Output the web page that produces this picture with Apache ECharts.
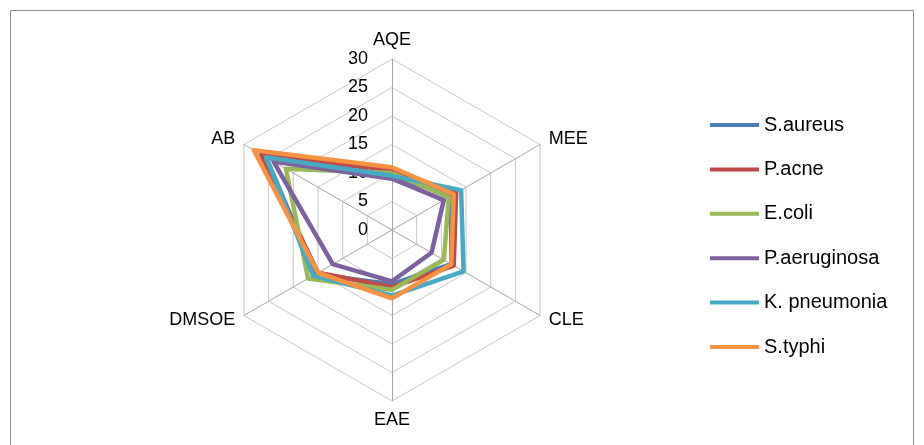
<!DOCTYPE html>
<html>
<head>
<meta charset="utf-8">
<script src="https://cdn.jsdelivr.net/npm/echarts@6/dist/echarts.min.js"></script>
<style>
  html, body { margin: 0; padding: 0; background: #ffffff; }
  #chart { width: 924px; height: 445px; }
</style>
</head>
<body>
<div id="chart"></div>
<script>
// Solvent extracts, listed in drawing order around the web
const extracts = ['AQE', 'AB', 'DMSOE', 'EAE', 'CLE', 'MEE'];
const scaleTicks = ['0', '5', '10', '15', '20', '25', '30'];

// Zone of inhibition per organism, same order as `extracts`
const organisms = ['S.aureus', 'P.acne', 'E.coli', 'P.aeruginosa', 'K. pneumonia', 'S.typhi'];
const sAureus     = [9.5, 25.5, 15.5, 9.5, 12,   12];
const pAcne       = [10.5, 26.5, 15,  10,  12.5, 13];
const eColi       = [10,  21.5, 17,  10.5, 10.5, 11.5];
const pAeruginosa = [9,   24,   12,  9,    8,    10.5];
const kPneumonia  = [9.5, 25.5, 16,  11.5, 14.5, 14];
const sTyphi      = [11,  28,   15,  12,   12,   12.5];

const colors = ['#4A7EBB', '#BE4B48', '#98B954', '#7D60A0', '#46AAC5', '#F69240'];
const values = [sAureus, pAcne, eColi, pAeruginosa, kPneumonia, sTyphi];

const FONT = 'Liberation Sans, Arial, sans-serif';
const CX = 392, CY = 230, R = 171;

const chart = echarts.init(document.getElementById('chart'), null, { renderer: 'canvas' });

chart.setOption({
  animation: false,
  backgroundColor: '#ffffff',
  color: colors,
  graphic: [{
    type: 'rect',
    shape: { x: 10.5, y: 10.5, width: 903, height: 460 },
    style: { fill: 'none', stroke: '#8c8c8c', lineWidth: 1 },
    silent: true
  }],
  legend: {
    orient: 'vertical',
    left: 710,
    top: 113,
    padding: 0,
    itemWidth: 49,
    itemHeight: 4,
    itemGap: 20.4,
    icon: 'rect',
    textStyle: { fontFamily: FONT, fontSize: 20, color: '#000', lineHeight: 24 },
    data: organisms
  },
  // Scale labels running up the first spoke
  grid: { left: CX, top: CY - R, width: 1, height: R, containLabel: false },
  xAxis: { type: 'value', show: false, min: 0, max: 1 },
  yAxis: {
    type: 'value',
    min: 0, max: 30, interval: 5,
    axisLine: { show: false },
    axisTick: { show: false },
    splitLine: { show: false },
    axisLabel: {
      margin: 24,
      fontFamily: FONT, fontSize: 18, color: '#000',
      formatter: function (v) { return scaleTicks[v / 5]; }
    }
  },
  radar: {
    center: [CX, CY],
    radius: R,
    startAngle: 90,
    shape: 'polygon',
    splitNumber: 6,
    indicator: extracts.map(function (n) { return { name: n, min: 0, max: 30 }; }),
    axisName: { color: '#000', fontFamily: FONT, fontSize: 18 },
    nameGap: 10,
    axisLine: { lineStyle: { color: '#a6a6a6', width: 1 } },
    splitLine: { lineStyle: { color: '#c8c8c8', width: 1 } },
    splitArea: { show: false },
    axisLabel: { show: false }
  },
  series: [{
    type: 'radar',
    symbol: 'none',
    data: organisms.map(function (name, i) {
      return {
        name: name,
        value: values[i],
        lineStyle: { color: colors[i], width: 4.5 },
        itemStyle: { color: colors[i] }
      };
    })
  }]
});
</script>
</body>
</html>
